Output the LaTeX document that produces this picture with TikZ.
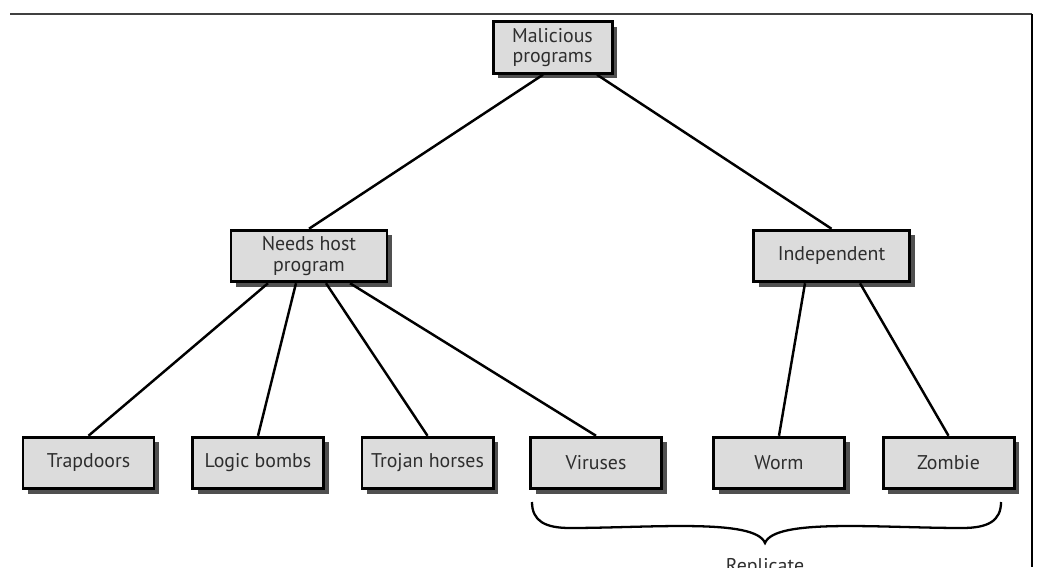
\documentclass[tikz,border=0pt]{standalone}
\usepackage{fontspec}
\setmainfont{PT Sans}
\usepackage{xcolor}
\usepackage{tikz}
\usetikzlibrary{positioning,shadows}

\definecolor{boxgray}{HTML}{DCDCDC}
\definecolor{shadowgray}{HTML}{505050}
\definecolor{textgray}{HTML}{2E2E2E}

\begin{document}
\begin{tikzpicture}[
    box/.style={draw=black, fill=boxgray, line width=1.7pt, inner sep=0pt,
                minimum height=1.03cm, align=center, text=textgray,
                font=\fontsize{11.3}{11.5}\selectfont,
                drop shadow={shadow xshift=0.1cm, shadow yshift=-0.1cm,
                             fill=shadowgray, opacity=1}},
    root/.style={box, minimum width=2.38cm},
    branch/.style={box, minimum width=3.12cm},
    leaf/.style={box, minimum width=2.62cm},
    link/.style={line width=1.4pt, black}
]
\useasboundingbox (0,0) rectangle (20.76,11.34);

% Frame lines along top and right
\draw[line width=0.9pt, black!75] (0.2,11.06) -- (20.64,11.06);
\draw[line width=1.1pt, black] (20.64,11.06) -- (20.64,0);

% Top: root
\node[root] (mal) at (11.05,10.39) {Malicious\\programs};

% Middle: the two kinds
\node[branch] (host) at (6.18,6.22) {Needs host\\program};
\node[branch] (indep) at (16.63,6.22) {Independent};

% Bottom row
\node[leaf] (trap) at (1.77,2.08) {Trapdoors};
\node[leaf] (logic) at (5.16,2.08) {Logic bombs};
\node[leaf] (trojan) at (8.55,2.08) {Trojan horses};
\node[leaf] (virus) at (11.92,2.08) {Viruses};
\node[leaf] (worm) at (15.58,2.08) {Worm};
\node[leaf] (zombie) at (18.97,2.08) {Zombie};

% Tree links
\draw[link] ([xshift=-0.19cm]mal.south) -- (host.north);
\draw[link] ([xshift=0.89cm]mal.south) -- (indep.north);

\draw[link] ([xshift=-0.82cm]host.south) -- (trap.north);
\draw[link] ([xshift=-0.26cm]host.south) -- (logic.north);
\draw[link] ([xshift=0.34cm]host.south) -- (trojan.north);
\draw[link] ([xshift=0.82cm]host.south) -- (virus.north);

\draw[link] ([xshift=-0.53cm]indep.south) -- (worm.north);
\draw[link] ([xshift=0.57cm]indep.south) -- (zombie.north);

% Brace under the self-copying programs
\coordinate (bl) at (10.64,1.30);
\coordinate (br) at (20.02,1.30);
\coordinate (tip) at (15.30,0.48);
\draw[line width=1.3pt] (bl) .. controls (10.64,0.92) and (10.90,0.78) .. (11.40,0.78)
    .. controls (13.0,0.78) and (15.1,0.98) .. (tip)
    .. controls (15.5,0.98) and (17.6,0.78) .. (19.24,0.78)
    .. controls (19.76,0.78) and (20.02,0.92) .. (br);
\node[anchor=base, text=textgray, font=\fontsize{11.3}{11.5}\selectfont]
    (rep) at (15.30,-0.10) {Replicate};

\end{tikzpicture}
\end{document}
